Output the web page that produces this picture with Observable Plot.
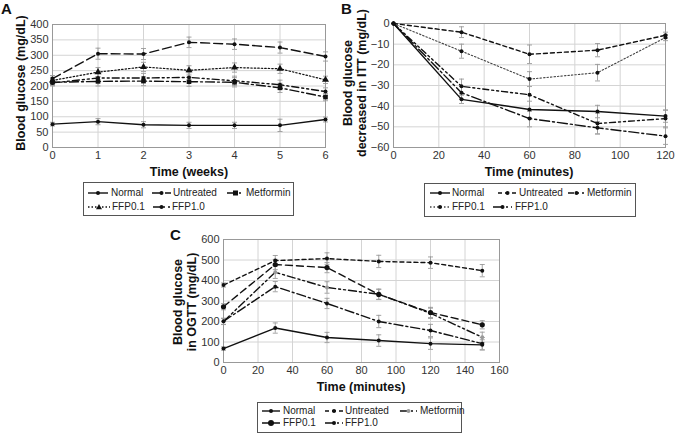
<!DOCTYPE html>
<html><head><meta charset="utf-8">
<script src="https://cdn.jsdelivr.net/npm/d3@7"></script>
<script src="https://cdn.jsdelivr.net/npm/@observablehq/plot@0.6"></script>
<style>
body{margin:0;background:#fff;font-family:"Liberation Sans",Arial,sans-serif;color:#111;}
#root{position:relative;width:675px;height:435px;overflow:hidden;background:#fff;}
.abs{position:absolute;}
.panel{font-size:15px;font-weight:bold;line-height:15px;}
.xt{font-size:12.5px;font-weight:bold;transform:translate(-50%,-50%);white-space:nowrap;}
.yt{font-size:12.5px;font-weight:bold;white-space:nowrap;text-align:center;line-height:14px;transform:translate(-50%,-50%) rotate(-90deg);}
.legend{border:1px solid #555;box-sizing:border-box;}
.lt{font-size:10px;line-height:12px;white-space:nowrap;color:#222;}
</style></head>
<body><div id="root"></div>
<script>
// ---------- data ----------
const seriesNames = ["Normal", "Untreated", "Metformin", "FFP0.1", "FFP1.0"];

// Panel A: weekly blood glucose (mg/dL)
const weeksA = [0, 1, 2, 3, 4, 5, 6];
const normalA    = [76, 84, 74, 72, 72, 72, 91];
const untreatedA = [224, 305, 304, 342, 336, 325, 296];
const metforminA = [212, 215, 216, 214, 212, 194, 164];
const ffp01A     = [218, 245, 262, 251, 260, 256, 220];
const ffp10A     = [210, 226, 226, 228, 217, 204, 182];
const normalAErr    = [6, 10, 10, 10, 10, 20, 8];
const untreatedAErr = [10, 18, 18, 17, 17, 18, 15];
const metforminAErr = [10, 15, 15, 15, 15, 15, 12];
const ffp01AErr     = [10, 15, 15, 15, 15, 15, 12];
const ffp10AErr     = [10, 15, 15, 15, 15, 15, 12];
const xTicksA = [0, 1, 2, 3, 4, 5, 6];
const yTicksA = [0, 50, 100, 150, 200, 250, 300, 350, 400];

// Panel B: decrease in ITT (mg/dL)
const minutesB = [0, 30, 60, 90, 120];
const normalB    = [0, -36.7, -41.6, -42.6, -44.8];
const untreatedB = [0, -4.2, -14.9, -12.9, -5.7];
const metforminB = [0, -30.4, -34.5, -48.4, -46];
const ffp01B     = [0, -13.4, -26.9, -23.8, -6.8];
const ffp10B     = [0, -33.5, -46, -50.5, -54.5];
const normalBErr    = [0, 2, 4, 3, 3];
const untreatedBErr = [0, 2.6, 4.5, 3.2, 1.5];
const metforminBErr = [0, 3.5, 8, 5, 4];
const ffp01BErr     = [0, 3.4, 3.6, 4, 1.5];
const ffp10BErr     = [0, 3, 4, 3, 4];
const xTicksB = [0, 20, 40, 60, 80, 100, 120];
const yTicksB = [-60, -50, -40, -30, -20, -10, 0];

// Panel C: OGTT blood glucose (mg/dL)
const minutesC = [0, 30, 60, 90, 120, 150];
const normalC    = [68, 168, 122, 107, 92, 86];
const untreatedC = [378, 497, 507, 493, 487, 448];
const metforminC = [200, 440, 366, 333, 240, 123];
const ffp01C     = [272, 478, 463, 332, 244, 184];
const ffp10C     = [201, 370, 288, 200, 156, 92];
const normalCErr    = [8, 25, 25, 28, 28, 25];
const untreatedCErr = [10, 25, 28, 30, 28, 30];
const metforminCErr = [15, 30, 28, 25, 25, 25];
const ffp01CErr     = [15, 25, 25, 25, 25, 20];
const ffp10CErr     = [15, 25, 25, 30, 30, 30];
const xTicksC = [0, 20, 40, 60, 80, 100, 120, 140, 160];
const yTicksC = [0, 100, 200, 300, 400, 500, 600];

// ---------- helpers ----------
const root = document.getElementById("root");
const capSymbol = {draw(ctx) { ctx.moveTo(-2.5, 0); ctx.lineTo(2.5, 0); }};

function rows(xs, ys, es) {
  return xs.map((x, i) => ({x, y: ys[i], lo: ys[i] - es[i], hi: ys[i] + es[i]}));
}

function makePanel(o) {
  const marks = [
    Plot.gridX(o.xTicks, {stroke: "#d4d4d4", strokeOpacity: 1}),
    Plot.gridY(o.yTicks, {stroke: "#d4d4d4", strokeOpacity: 1}),
    Plot.frame({stroke: "#999"})
  ];
  for (const s of o.series) {
    const d = rows(o.xs, s.y, s.e).filter(r => r.hi !== r.lo);
    marks.push(Plot.ruleX(d, {x: "x", y1: "lo", y2: "hi", stroke: "#9a9a9a", strokeWidth: 0.9}));
    marks.push(Plot.dot(d, {x: "x", y: "lo", symbol: capSymbol, stroke: "#9a9a9a", fill: "none", strokeWidth: 0.9}));
    marks.push(Plot.dot(d, {x: "x", y: "hi", symbol: capSymbol, stroke: "#9a9a9a", fill: "none", strokeWidth: 0.9}));
  }
  for (const s of o.series) {
    const d = rows(o.xs, s.y, s.e);
    marks.push(Plot.line(d, {x: "x", y: "y", stroke: s.stroke || "#111", strokeWidth: s.sw || 1.4, strokeDasharray: s.dash}));
    marks.push(Plot.dot(d, {x: "x", y: "y", symbol: s.symbol || "circle", r: s.r || 2, fill: s.mfill || "#111", stroke: "none"}));
  }
  marks.push(Plot.axisX(o.xTicks, {tickSize: 0, tickPadding: 4, label: null, fill: "#333"}));
  marks.push(Plot.axisY(o.yTicks, {tickSize: 0, tickPadding: 4, label: null, fill: "#333"}));
  const svg = Plot.plot({
    width: o.width, height: o.height,
    marginLeft: o.ml, marginRight: o.mr, marginTop: o.mt, marginBottom: o.mb,
    x: {domain: o.xDomain}, y: {domain: o.yDomain},
    style: {fontFamily: "Liberation Sans, Arial, sans-serif", fontSize: "11px", background: "transparent", overflow: "visible"},
    marks
  });
  svg.style.position = "absolute";
  svg.style.left = o.left + "px";
  svg.style.top = o.top + "px";
  root.appendChild(svg);
}

function addText(cls, html, left, top) {
  const d = document.createElement("div");
  d.className = "abs " + cls;
  d.innerHTML = html;
  d.style.left = left + "px";
  d.style.top = top + "px";
  root.appendChild(d);
  return d;
}

function markerSvg(sym, fill, cx, cy) {
  if (sym === "square") return `<rect x="${cx-2.5}" y="${cy-2.5}" width="5" height="5" fill="${fill}"/>`;
  if (sym === "triangle") return `<path d="M${cx},${cy-3}L${cx+3},${cy+2.2}L${cx-3},${cy+2.2}Z" fill="${fill}"/>`;
  return `<circle cx="${cx}" cy="${cy}" r="${sym === "big" ? 3 : 2}" fill="${fill}"/>`;
}

function addLegend(box, entries) {
  const b = document.createElement("div");
  b.className = "abs legend";
  Object.assign(b.style, {left: box.left + "px", top: box.top + "px", width: box.w + "px", height: box.h + "px"});
  root.appendChild(b);
  for (const e of entries) {
    const w = e.x1 - e.x0;
    const s = document.createElement("div");
    s.className = "abs";
    s.style.left = e.x0 + "px"; s.style.top = (e.y - 5) + "px";
    s.innerHTML = `<svg width="${w}" height="10" style="display:block;overflow:visible"><line x1="0" y1="5" x2="${w}" y2="5" stroke="${e.stroke || '#111'}" stroke-width="1.4" ${e.dash ? `stroke-dasharray="${e.dash}"` : ""}/>${markerSvg(e.symbol, e.mfill || "#111", w * 0.5, 5)}</svg>`;
    root.appendChild(s);
    addText("lt", e.name, e.tx, e.y - 6);
  }
}

// ---------- styles per series ----------
const stylesA = [
  {dash: null}, {dash: "9,4"}, {dash: "9,3,2,3", symbol: "square", r: 2.6}, {dash: "1.5,2", symbol: "triangle", r: 2.6, sw: 1.2}, {dash: "7,3,2,3,2,3"}
];
const stylesB = [
  {dash: null}, {dash: "4,3"}, {dash: "6,3,2,3,2,3"}, {dash: "1.5,2", stroke: "#444", sw: 1.1}, {dash: "10,3,2,3"}
];
const stylesC = [
  {dash: null}, {dash: "4,3"}, {dash: "8,3,2,3,2,3", mfill: "#999"}, {dash: "7,4", r: 2.6}, {dash: "9,3,2,3"}
];

// ---------- Panel A ----------
const valsA = [normalA, untreatedA, metforminA, ffp01A, ffp10A];
const errsA = [normalAErr, untreatedAErr, metforminAErr, ffp01AErr, ffp10AErr];
makePanel({
  left: 0, top: 0, width: 335, height: 180, ml: 52, mr: 10, mt: 24, mb: 33,
  xs: weeksA, xDomain: [0, 6], yDomain: [0, 400], xTicks: xTicksA, yTicks: yTicksA,
  series: valsA.map((y, i) => ({y, e: errsA[i], ...stylesA[i]}))
});
addText("panel", "A", 1, 1);
addText("xt", "Time (weeks)", 189, 172);
addText("yt", "Blood glucose (mg/dL)", 21, 83);
addLegend({left: 83, top: 182, w: 211, h: 34}, [
  {name: seriesNames[0], x0: 88, x1: 108, tx: 111, y: 193, ...stylesA[0]},
  {name: seriesNames[1], x0: 152, x1: 171, tx: 173, y: 193, ...stylesA[1]},
  {name: seriesNames[2], x0: 227, x1: 244, tx: 246, y: 193, ...stylesA[2]},
  {name: seriesNames[3], x0: 88, x1: 110, tx: 112, y: 207, ...stylesA[3]},
  {name: seriesNames[4], x0: 153, x1: 170, tx: 172, y: 207, ...stylesA[4]}
]);

// ---------- Panel B ----------
const valsB = [normalB, untreatedB, metforminB, ffp01B, ffp10B];
const errsB = [normalBErr, untreatedBErr, metforminBErr, ffp01BErr, ffp10BErr];
makePanel({
  left: 340, top: 0, width: 335, height: 180, ml: 53, mr: 10, mt: 23, mb: 33,
  xs: minutesB, xDomain: [0, 120], yDomain: [-60, 0], xTicks: xTicksB, yTicks: yTicksB,
  series: valsB.map((y, i) => ({y, e: errsB[i], ...stylesB[i]}))
});
addText("panel", "B", 341, 1);
addText("xt", "Time (minutes)", 529, 172);
addText("yt", "Blood glucose<br>decreased in ITT (mg/dL)", 355, 83);
addLegend({left: 424, top: 183, w: 212, h: 34}, [
  {name: seriesNames[0], x0: 430, x1: 450, tx: 452, y: 193, ...stylesB[0]},
  {name: seriesNames[1], x0: 498, x1: 517, tx: 519, y: 193, ...stylesB[1]},
  {name: seriesNames[2], x0: 568, x1: 585, tx: 587, y: 193, ...stylesB[2]},
  {name: seriesNames[3], x0: 430, x1: 450, tx: 452, y: 207, ...stylesB[3]},
  {name: seriesNames[4], x0: 493, x1: 512, tx: 515, y: 207, ...stylesB[4]}
]);

// ---------- Panel C ----------
const valsC = [normalC, untreatedC, metforminC, ffp01C, ffp10C];
const errsC = [normalCErr, untreatedCErr, metforminCErr, ffp01CErr, ffp10CErr];
makePanel({
  left: 170, top: 220, width: 340, height: 172, ml: 53, mr: 11, mt: 19, mb: 30,
  xs: minutesC, xDomain: [0, 160], yDomain: [0, 600], xTicks: xTicksC, yTicks: yTicksC,
  series: valsC.map((y, i) => ({y, e: errsC[i], ...stylesC[i]}))
});
addText("panel", "C", 170, 227);
addText("xt", "Time (minutes)", 361, 387);
addText("yt", "Blood glucose<br>in OGTT (mg/dL)", 185, 302);
addLegend({left: 257, top: 402, w: 205, h: 31}, [
  {name: seriesNames[0], x0: 262, x1: 280, tx: 283, y: 411, ...stylesC[0]},
  {name: seriesNames[1], x0: 325, x1: 343, tx: 345, y: 411, ...stylesC[1]},
  {name: seriesNames[2], x0: 400, x1: 417, tx: 420, y: 411, ...stylesC[2]},
  {name: seriesNames[3], x0: 262, x1: 280, tx: 283, y: 423, ...stylesC[3], symbol: "big"},
  {name: seriesNames[4], x0: 325, x1: 343, tx: 345, y: 423, ...stylesC[4]}
]);
</script>
</body></html>
